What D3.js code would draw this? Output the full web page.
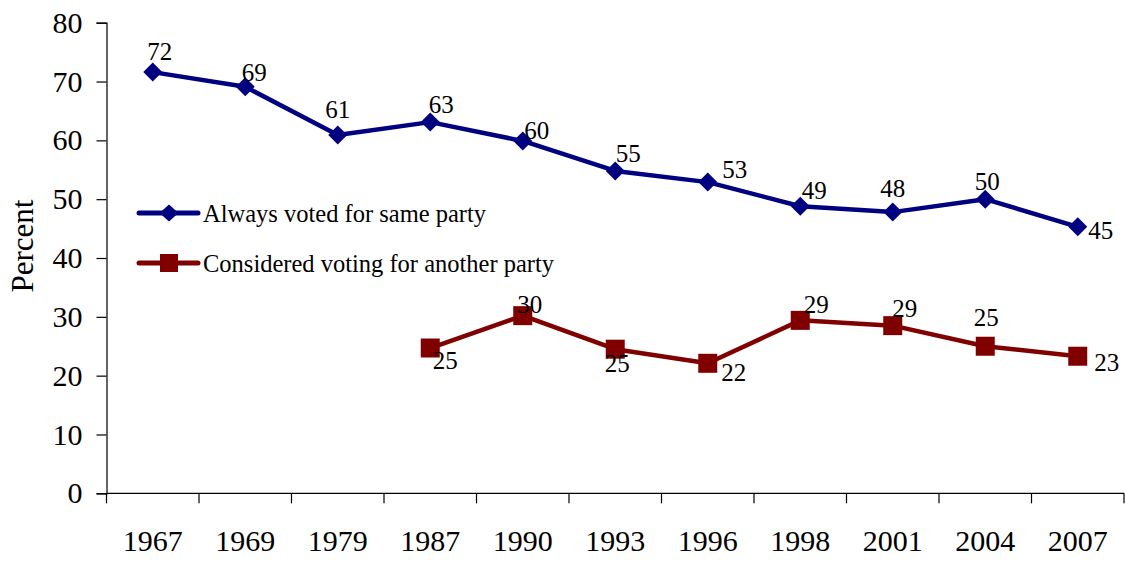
<!DOCTYPE html>
<html>
<head>
<meta charset="utf-8">
<script src="https://cdn.jsdelivr.net/npm/d3@7"></script>
<style>
  html, body { margin: 0; padding: 0; background: #fff; }
  svg { display: block; font-family: "Liberation Serif", "Times New Roman", serif; }
</style>
</head>
<body>
<svg id="chart" width="1125" height="561"></svg>
<script>
// ---- data ----
const years = ["1967", "1969", "1979", "1987", "1990", "1993", "1996", "1998", "2001", "2004", "2007"];
const alwaysSame = [71.6, 69.1, 60.9, 63.1, 59.9, 54.8, 52.9, 48.8, 47.8, 50.0, 45.3];
const consideredOther = [null, null, null, 24.7, 30.2, 24.5, 22.1, 29.4, 28.5, 25.0, 23.3];
const alwaysLabels = ["72", "69", "61", "63", "60", "55", "53", "49", "48", "50", "45"];
const otherLabels = [null, null, null, "25", "30", "25", "22", "29", "29", "25", "23"];
const yTicks = [0, 10, 20, 30, 40, 50, 60, 70, 80];
const seriesNames = ["Always voted for same party", "Considered voting for another party"];

// ---- layout (label nudges, pixels relative to marker) ----
const nudgeAlways = [[7,-21],[9,-14],[0,-26],[11,-18],[14,-10],[13,-17],[27,-13],[14,-16],[0,-24],[2,-18],[23,4]];
const nudgeOther  = [null,null,null,[15,12],[7,-11],[2,14],[26,9],[16,-16],[12,-17],[1,-29],[29,6]];

(function () {
const svg = d3.select("#chart");
const mLeft = 106.5, mRight = 1124, mTop = 22.7, mBottom = 493.3;
const blue = "#000080", red = "#800000";

const x = d3.scaleBand().domain(years).range([mLeft, mRight]).padding(0);
const y = d3.scaleLinear().domain([0, 80]).range([mBottom, mTop]);
const cx = d => x(d) + x.bandwidth() / 2;

// y axis
const yAxis = svg.append("g").attr("transform", `translate(${mLeft},0)`)
  .call(d3.axisLeft(y).tickValues(yTicks).tickSize(10).tickPadding(14).tickFormat(d3.format("d")));
yAxis.select(".domain").attr("stroke", "#000").attr("stroke-width", 1.2);
yAxis.selectAll(".tick line").attr("stroke", "#000").attr("stroke-width", 1.2);
yAxis.selectAll("text").attr("font-size", 30).attr("fill", "#000")
  .attr("font-family", "Liberation Serif, serif");

// x axis: ticks at category boundaries
const xg = svg.append("g").attr("transform", `translate(0,${mBottom})`);
xg.append("line").attr("x1", mLeft).attr("x2", mRight).attr("y1", 0).attr("y2", 0)
  .attr("stroke", "#000").attr("stroke-width", 1.2);
const bounds = years.map(d => x(d)).concat([mRight]);
xg.selectAll("line.tk").data(bounds).enter().append("line").attr("class", "tk")
  .attr("x1", d => d).attr("x2", d => d).attr("y1", 0).attr("y2", 10)
  .attr("stroke", "#000").attr("stroke-width", 1.2);
xg.selectAll("text").data(years).enter().append("text")
  .attr("x", d => cx(d)).attr("y", 58)
  .attr("text-anchor", "middle").attr("font-size", 30).attr("fill", "#000")
  .text(d => d);

// y title
svg.append("text")
  .attr("transform", `translate(33,246) rotate(-90)`)
  .attr("text-anchor", "middle").attr("font-size", 31).attr("fill", "#000")
  .text("Percent");

// lines
const line = d3.line().defined(d => d.v != null).x(d => cx(d.k)).y(d => y(d.v));
const blueData = years.map((k, i) => ({ k, v: alwaysSame[i], lab: alwaysLabels[i], n: nudgeAlways[i] }));
const redData = years.map((k, i) => ({ k, v: consideredOther[i], lab: otherLabels[i], n: nudgeOther[i] }));

svg.append("path").datum(blueData).attr("d", line)
  .attr("fill", "none").attr("stroke", blue).attr("stroke-width", 4.5).attr("stroke-linejoin", "round");
svg.append("path").datum(redData).attr("d", line)
  .attr("fill", "none").attr("stroke", red).attr("stroke-width", 4.5).attr("stroke-linejoin", "round");

const diamond = (s) => `M0,${-s}L${s},0L0,${s}L${-s},0Z`;

svg.selectAll("path.dia").data(blueData).enter().append("path").attr("class", "dia")
  .attr("d", diamond(9.5)).attr("fill", blue)
  .attr("transform", d => `translate(${cx(d.k)},${y(d.v)})`);
svg.selectAll("rect.sq").data(redData.filter(d => d.v != null)).enter().append("rect").attr("class", "sq")
  .attr("x", d => cx(d.k) - 9.5).attr("y", d => y(d.v) - 9.5).attr("width", 19).attr("height", 19)
  .attr("fill", red);

// data labels
function labels(data) {
  svg.selectAll(null).data(data.filter(d => d.v != null)).enter().append("text")
    .attr("x", d => cx(d.k) + d.n[0]).attr("y", d => y(d.v) + d.n[1] + 8.5)
    .attr("text-anchor", "middle").attr("font-size", 25).attr("fill", "#000")
    .text(d => d.lab);
}
labels(blueData);
labels(redData);

// legend
const legend = [
  { name: seriesNames[0], color: blue, shape: "diamond", yy: 213 },
  { name: seriesNames[1], color: red, shape: "square", yy: 263 }
];
legend.forEach(l => {
  svg.append("line").attr("x1", 139).attr("x2", 198).attr("y1", l.yy).attr("y2", l.yy)
    .attr("stroke", l.color).attr("stroke-width", 5).attr("stroke-linecap", "round");
  if (l.shape === "diamond") {
    svg.append("path").attr("d", `M0,-8.5L9.5,0L0,8.5L-9.5,0Z`).attr("fill", l.color)
      .attr("transform", `translate(169,${l.yy})`);
  } else {
    svg.append("rect").attr("x", 160).attr("y", l.yy - 9).attr("width", 18).attr("height", 18).attr("fill", l.color);
  }
  svg.append("text").attr("x", 203).attr("y", l.yy + 9).attr("font-size", 24.5).attr("fill", "#000").text(l.name);
});
})();
</script>
</body>
</html>
